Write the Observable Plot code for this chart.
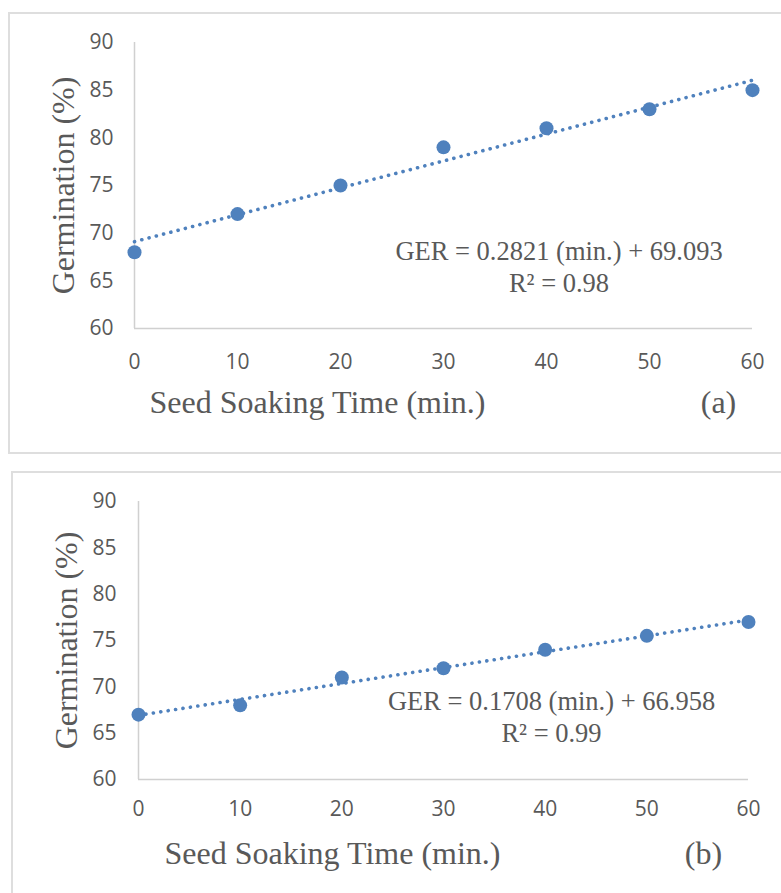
<!DOCTYPE html>
<html>
<head>
<meta charset="utf-8">
<script src="https://cdn.jsdelivr.net/npm/d3@7"></script>
<script src="https://cdn.jsdelivr.net/npm/@observablehq/plot@0.6"></script>
<style>
  html, body { margin: 0; padding: 0; background: #fff; }
  body { width: 781px; height: 893px; position: relative; overflow: hidden; }
  .box { position: absolute; border: 2px solid #dedede; box-sizing: border-box; pointer-events: none; }
  .panel { position: absolute; left: 0; }
</style>
</head>
<body>
<div class="box" style="left:8px;top:12px;width:820px;height:442px;"></div>
<div class="box" style="left:11px;top:471px;width:820px;height:500px;"></div>
<div id="a" class="panel" style="top:0px;"></div>
<div id="b" class="panel" style="top:460px;"></div>
<script>
// ---- data ----
const times = [0, 10, 20, 30, 40, 50, 60];
const germA = [68, 72, 75, 79, 81, 83, 85];
const germB = [67, 68, 71, 72, 74, 75.5, 77];
const xTicks = [0, 10, 20, 30, 40, 50, 60];
const yTicks = [60, 65, 70, 75, 80, 85, 90];
const xLabel = "Seed Soaking Time (min.)";
const yLabel = "Germination (%)";
const eqA = ["GER = 0.2821 (min.) + 69.093", "R² = 0.98"];
const eqB = ["GER = 0.1708 (min.) + 66.958", "R² = 0.99"];
const tags = ["(a)", "(b)"];

const blue = "#4F81BD";
const grey = "#595959";
const serif = "Liberation Serif, Times New Roman, serif";

function panel(cfg) {
  const data = times.map((t, i) => ({t, g: cfg.values[i]}));
  return Plot.plot({
    width: 781,
    height: cfg.height,
    marginLeft: cfg.ml,
    marginRight: cfg.mr,
    marginTop: cfg.mt,
    marginBottom: cfg.mb,
    style: {background: "transparent", fontFamily: "Open Sans, sans-serif", fontSize: "21px", color: grey},
    x: {domain: [0, 60], ticks: xTicks, tickSize: 0, tickPadding: cfg.xpad, label: null},
    y: {domain: [60, 90], ticks: yTicks, tickSize: 0, tickPadding: cfg.ypad, label: null},
    marks: [
      Plot.ruleY([60], {stroke: "#d0d0d0", strokeWidth: 1.5}),
      Plot.ruleX([0], {stroke: "#d0d0d0", strokeWidth: 1.5}),
      Plot.linearRegressionY(data, {x: "t", y: "g", ci: 0, stroke: blue, strokeWidth: 3.6,
        strokeDasharray: "0.1,7.4", strokeLinecap: "round"}),
      Plot.dot(data, {x: "t", y: "g", r: 7, fill: blue, stroke: "none"}),
      Plot.text([cfg.eq.join("\n")], {text: d => d, frameAnchor: "bottom-right", dx: cfg.eqdx, dy: cfg.eqdy,
        textAnchor: "middle", lineAnchor: "middle", lineHeight: 1.18, fontFamily: serif, fontSize: 26.5, fill: grey}),
      Plot.text([yLabel], {text: d => d, frameAnchor: "left", dx: cfg.yldx, rotate: -90,
        textAnchor: "middle", lineAnchor: "middle", fontFamily: serif, fontSize: 32, fill: grey}),
      Plot.text([xLabel], {text: d => d, frameAnchor: "bottom", dx: cfg.xldx, dy: 74,
        textAnchor: "middle", lineAnchor: "middle", fontFamily: serif, fontSize: 32, fill: grey}),
      Plot.text([cfg.tag], {text: d => d, frameAnchor: "bottom-right", dx: cfg.tagdx, dy: 74,
        textAnchor: "middle", lineAnchor: "middle", fontFamily: serif, fontSize: 32, fill: grey})
    ]
  });
}

document.getElementById("a").append(panel({
  values: germA, eq: eqA, tag: tags[0],
  height: 460, ml: 134, mr: 29, mt: 42, mb: 132,
  xpad: 26, ypad: 21,
  eqdx: -193.5, eqdy: -62.5, yldx: -71, xldx: -126, tagdx: -34
}));
document.getElementById("b").append(panel({
  values: germB, eq: eqB, tag: tags[1],
  height: 433, ml: 138, mr: 33, mt: 41, mb: 114,
  xpad: 22, ypad: 22,
  eqdx: -197, eqdy: -63.5, yldx: -72, xldx: -111, tagdx: -45
}));
</script>
</body>
</html>
